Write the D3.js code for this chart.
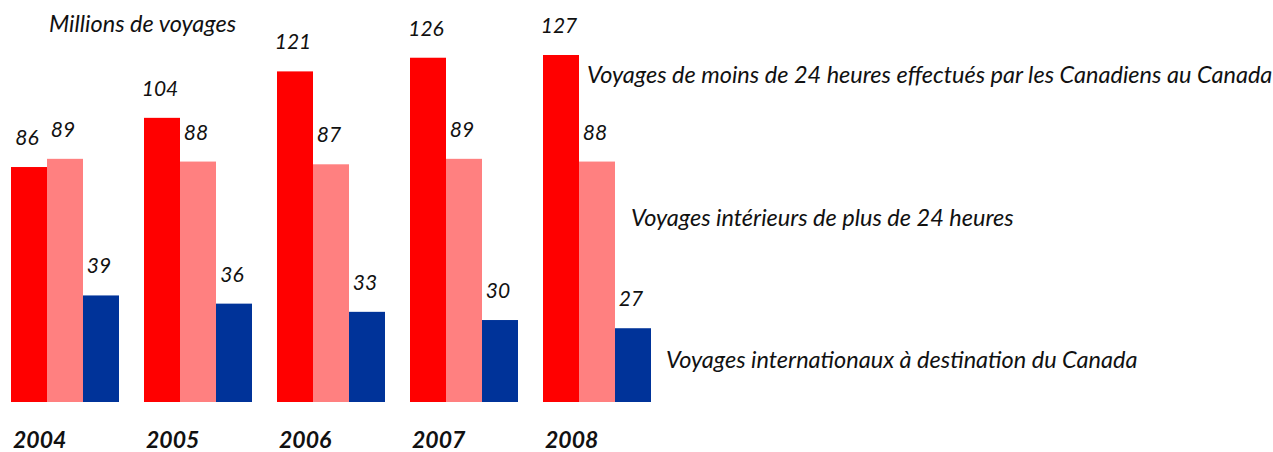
<!DOCTYPE html>
<html><head><meta charset="utf-8">
<script src="https://cdn.jsdelivr.net/npm/d3@7"></script>
<style>
html,body{margin:0;padding:0;background:#fff;}
text{font-family:Lato,"Open Sans",sans-serif;font-style:italic;fill:#111;}
</style></head>
<body><svg id="c" width="1273" height="452"></svg>
<script>
const years = ["2004","2005","2006","2007","2008"];
const sameDayTrips = [86,104,121,126,127];
const domesticTrips = [89,88,87,89,88];
const internationalTrips = [39,36,33,30,27];
const seriesNames = [
  "Voyages de moins de 24 heures effectués par les Canadiens au Canada",
  "Voyages intérieurs de plus de 24 heures",
  "Voyages internationaux à destination du Canada"
];
const seriesColors = ["#FF0000","#FF8080","#003399"];
const unitLabel = "Millions de voyages";

const svg = d3.select("#c");
const series = [sameDayTrips, domesticTrips, internationalTrips];

const x0 = d3.scaleBand().domain(years).range([11, 651]).paddingInner(0.188).paddingOuter(0);
const x1 = d3.scaleBand().domain([0,1,2]).range([0, x0.bandwidth()]).padding(0);
const y = d3.scaleLinear().domain([0,127]).range([402,55]);

const g = svg.selectAll("g.grp").data(years).enter().append("g")
  .attr("transform", d => `translate(${x0(d)},0)`);

g.each(function(yr, i){
  const sel = d3.select(this);
  series.forEach((s, k) => {
    sel.append("rect")
      .attr("x", x1(k))
      .attr("width", x1.bandwidth())
      .attr("y", y(s[i]))
      .attr("height", y(0) - y(s[i]))
      .attr("fill", seriesColors[k]);
    sel.append("text")
      .attr("x", x1(k) + x1.bandwidth()/2 - 2)
      .attr("y", y(s[i]) - 22)
      .attr("text-anchor", "middle")
      .style("font-size", "21px")
      .text(s[i]);
  });
  sel.append("text")
    .attr("x", 2)
    .attr("y", 448)
    .style("font-size", "23px")
    .style("font-weight", "bold")
    .text(yr);
});

svg.append("text").attr("x", 49).attr("y", 32).style("font-size","23.5px").text(unitLabel);

const last = years[years.length-1];
const labelPos = [[8, 83],[16, 226],[15, 368]];
seriesNames.forEach((n,k) => {
  svg.append("text")
    .attr("x", x0(last) + x1(k) + x1.bandwidth() + labelPos[k][0])
    .attr("y", labelPos[k][1])
    .style("font-size", "23.5px")
    .text(n);
});
</script></body></html>
